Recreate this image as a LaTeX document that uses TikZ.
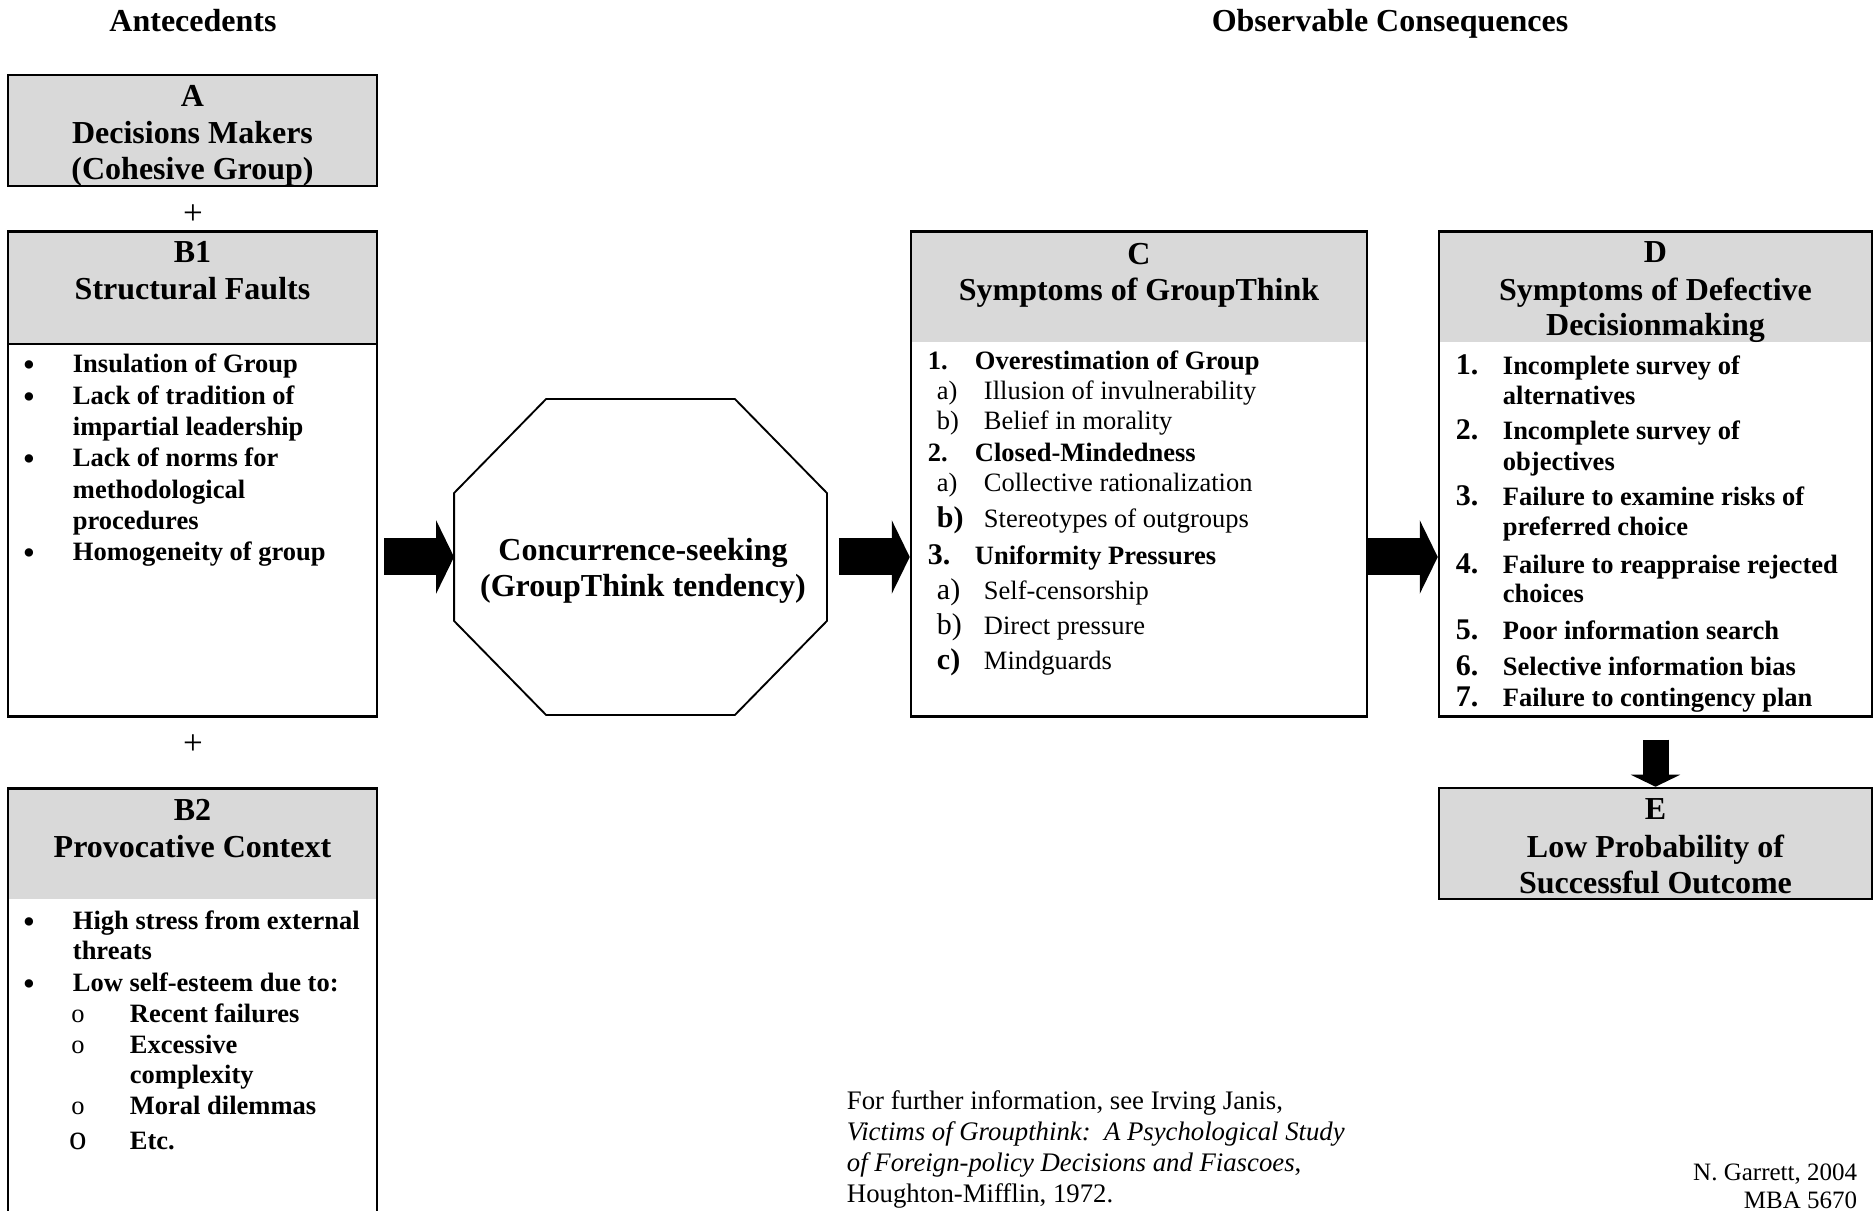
\documentclass[tikz,border=0pt]{standalone}
\usepackage{fontspec}
\setmainfont{Liberation Serif}
\usetikzlibrary{arrows.meta,calc}

\definecolor{hdrgray}{RGB}{217,217,217}

\tikzset{every picture/.style={line width=0.75pt}}
\tikzset{
  box/.style={draw, line width=1pt, inner sep=0pt},
  hdr/.style={fill=hdrgray, inner sep=0pt},
  ttl/.style={font=\bfseries\fontsize{12.8}{14.6}\selectfont, anchor=base, inner sep=0pt},
  itm/.style={font=\bfseries\fontsize{10.6}{12.6}\selectfont, anchor=base west, inner sep=0pt},
  sub/.style={font=\fontsize{10.6}{12.6}\selectfont, anchor=base west, inner sep=0pt},
  bignum/.style={font=\bfseries\fontsize{12}{14}\selectfont, anchor=base west, inner sep=0pt},
  bigsub/.style={font=\fontsize{12}{14}\selectfont, anchor=base west, inner sep=0pt},
  dot/.style={font=\fontsize{14}{14}\selectfont, anchor=base, inner sep=0pt},
  circ/.style={font=\fontsize{10.6}{12.6}\selectfont, anchor=base, inner sep=0pt},
  note/.style={font=\fontsize{10.7}{12.4}\selectfont, anchor=base west, inner sep=0pt},
  blockarrow/.style={line width=14.8pt, -{Triangle[length=7.2pt,width=29.2pt]}}
}

\begin{document}
\begin{tikzpicture}[x=0.4pt,y=0.4pt,yscale=-1,xscale=1]
\useasboundingbox (0,0) rectangle (1875,1211);

% Titles
\node[ttl] (ante) at (193,32) {Antecedents};
\node[ttl] (obs) at (1390,32) {Observable Consequences};

%Box A
\node[hdr, box, minimum width=147.6pt, minimum height=44.4pt] (A) at (192.5,130.5) {};
\node[ttl] (A1) at (192.5,107) {A};
\node[ttl] (A2) at (192.5,144) {Decisions Makers};
\node[ttl] (A3) at (192.5,180) {(Cohesive Group)};

\node[font=\fontsize{14}{14}\selectfont, inner sep=0pt] (plus1) at (193,215) {+};

%Box B1
\node[hdr, minimum width=147.6pt, minimum height=44.8pt] (B1h) at (192.5,287) {};
\node[box, minimum width=147.6pt, minimum height=194pt, anchor=north] (B1) at (B1h.north) {};
\draw[line width=1pt] (B1h.south west) -- (B1h.south east);
\node[ttl] (B1a) at (192.5,263) {B1};
\node[ttl] (B1b) at (192.5,300) {Structural Faults};
\node[dot] (b1d1) at (29,377) {\textbullet};
\node[itm] (b1t1) at (72,373) {Insulation of Group};
\node[dot] (b1d2) at (29,408.3) {\textbullet};
\node[itm] (b1t2) at (72,404.3) {Lack of tradition of};
\node[itm] (b1t3) at (72,435.6) {impartial leadership};
\node[dot] (b1d3) at (29,471) {\textbullet};
\node[itm] (b1t4) at (72,467) {Lack of norms for};
\node[itm] (b1t5) at (72,498.2) {methodological};
\node[itm] (b1t6) at (72,529.5) {procedures};
\node[dot] (b1d4) at (29,565) {\textbullet};
\node[itm] (b1t7) at (72,561) {Homogeneity of group};

\node[font=\fontsize{14}{14}\selectfont, inner sep=0pt] (plus2) at (193,745) {+};

%Box B2
\node[hdr, minimum width=147.6pt, minimum height=44.4pt] (B2h) at (192.5,843.5) {};
\node[box, minimum width=147.6pt, minimum height=176.8pt, anchor=north] (B2) at (B2h.north) {};
\node[ttl] (B2a) at (192.5,821) {B2};
\node[ttl] (B2b) at (192.5,858) {Provocative Context};
\node[dot] (b2d1) at (29,933.7) {\textbullet};
\node[itm] (b2t1) at (72,929.7) {High stress from external};
\node[itm] (b2t2) at (72,960) {threats};
\node[dot] (b2d2) at (29,995) {\textbullet};
\node[itm] (b2t3) at (72,991) {Low self-esteem due to:};
\node[circ] (b2o1) at (78,1022.5) {o};
\node[itm] (b2s1) at (129,1022.5) {Recent failures};
\node[circ] (b2o2) at (78,1053) {o};
\node[itm] (b2s2) at (129,1053) {Excessive};
\node[itm] (b2s3) at (129,1083.5) {complexity};
\node[circ] (b2o3) at (78,1114.7) {o};
\node[itm] (b2s4) at (129,1114.7) {Moral dilemmas};
\node[circ, font=\fontsize{14}{14}\selectfont] (b2o4) at (78,1149) {o};
\node[itm] (b2s5) at (129,1149) {Etc.};

%Octagon
\node[minimum width=148.4pt, minimum height=125.6pt, inner sep=0pt] (cs) at (640.5,557) {};
\draw ($(cs.north west)+(92,0)$) -- ($(cs.north east)+(-92,0)$) -- ($(cs.north east)+(0,94)$) -- ($(cs.south east)+(0,-94)$) -- ($(cs.south east)+(-92,0)$) -- ($(cs.south west)+(92,0)$) -- ($(cs.south west)+(0,-94)$) -- ($(cs.north west)+(0,94)$) -- cycle;
\node[ttl] (cs1) at (643,561) {Concurrence-seeking};
\node[ttl] (cs2) at (643,597) {(GroupThink tendency)};

%Box C
\node[hdr, minimum width=182.4pt, minimum height=44.4pt] (Ch) at (1139,286.5) {};
\node[box, minimum width=182.4pt, minimum height=194pt, anchor=north] (C) at (Ch.north) {};
\node[ttl] (Ca) at (1139,264.7) {C};
\node[ttl] (Cb) at (1139,301) {Symptoms of GroupThink};
\node[itm] (c1n) at (927,370) {1.};
\node[itm] (c1t) at (974,370) {Overestimation of Group};
\node[sub] (c1an) at (936,399.7) {a)};
\node[sub] (c1at) at (983,399.7) {Illusion of invulnerability};
\node[sub] (c1bn) at (936,430) {b)};
\node[sub] (c1bt) at (983,430) {Belief in morality};
\node[itm] (c2n) at (927,462) {2.};
\node[itm] (c2t) at (974,462) {Closed-Mindedness};
\node[sub] (c2an) at (936,492) {a)};
\node[sub] (c2at) at (983,492) {Collective rationalization};
\node[bignum] (c2bn) at (936,528) {b)};
\node[sub] (c2bt) at (983,528) {Stereotypes of outgroups};
\node[bignum] (c3n) at (927,564.7) {3.};
\node[itm] (c3t) at (974,564.7) {Uniformity Pressures};
\node[bigsub] (c3an) at (936,599.7) {a)};
\node[sub] (c3at) at (983,599.7) {Self-censorship};
\node[bigsub] (c3bn) at (936,634.7) {b)};
\node[sub] (c3bt) at (983,634.7) {Direct pressure};
\node[bignum] (c3cn) at (936,669.7) {c)};
\node[sub] (c3ct) at (983,669.7) {Mindguards};

%Box D
\node[hdr, minimum width=173.2pt, minimum height=44.4pt] (Dh) at (1655.5,286.5) {};
\node[box, minimum width=173.2pt, minimum height=194pt, anchor=north] (D) at (Dh.north) {};
\node[ttl] (Da) at (1655.5,263) {D};
\node[ttl] (Db) at (1655.5,301) {Symptoms of Defective};
\node[ttl] (Dc) at (1655.5,336) {Decisionmaking};
\node[bignum] (d1n) at (1455,374.7) {1.};
\node[itm] (d1t) at (1502,374.7) {Incomplete survey of};
\node[itm] (d1u) at (1502,404.7) {alternatives};
\node[bignum] (d2n) at (1455,439.7) {2.};
\node[itm] (d2t) at (1502,439.7) {Incomplete survey of};
\node[itm] (d2u) at (1502,471) {objectives};
\node[bignum] (d3n) at (1455,506) {3.};
\node[itm] (d3t) at (1502,506) {Failure to examine risks of};
\node[itm] (d3u) at (1502,536) {preferred choice};
\node[bignum] (d4n) at (1455,573.7) {4.};
\node[itm] (d4t) at (1502,573.7) {Failure to reappraise rejected};
\node[itm] (d4u) at (1502,603) {choices};
\node[bignum] (d5n) at (1455,639.7) {5.};
\node[itm] (d5t) at (1502,639.7) {Poor information search};
\node[bignum] (d6n) at (1455,676) {6.};
\node[itm] (d6t) at (1502,676) {Selective information bias};
\node[bignum] (d7n) at (1455,707) {7.};
\node[itm] (d7t) at (1502,707) {Failure to contingency plan};

%Box E
\node[hdr, box, minimum width=173.2pt, minimum height=44.4pt] (E) at (1655.5,843.5) {};
\node[ttl] (Ea) at (1655.5,820) {E};
\node[ttl] (Eb) at (1655.5,857) {Low Probability of};
\node[ttl] (Ec) at (1655.5,893.7) {Successful Outcome};

%Block arrows
\coordinate (a1s) at ($(B1.east |- cs.west)+(6,0)$);
\coordinate (a2s) at ($(cs.east)+(12,0)$);
\coordinate (a4s) at ($(D.south)+(0,22)$);
\draw[blockarrow] (a1s) -- (cs.west);
\draw[blockarrow] (a2s) -- (cs.east -| C.west);
\draw[blockarrow] (cs.east -| C.east) -- (cs.east -| D.west);
\draw[blockarrow, line width=10.4pt, -{Triangle[length=4.8pt,width=19.6pt]}] (a4s) -- (E.north);

% Text Node
\node[note] (ref1) at (846,1109) {For further information, see Irving Janis,};
\node[note] (ref2) at (846,1140) {\textit{Victims of Groupthink:\ \ A Psychological Study}};
\node[note] (ref3) at (846,1171) {\textit{of Foreign-policy Decisions and Fiascoes},};
\node[note] (ref4) at (846,1202) {Houghton-Mifflin, 1972.};
\node[note, font=\fontsize{10}{11}\selectfont, anchor=base east] (sig1) at (1858,1180) {N. Garrett, 2004};
\node[note, font=\fontsize{10}{11}\selectfont, anchor=base east] (sig2) at (1858,1208) {MBA 5670};

\end{tikzpicture}
\end{document}
